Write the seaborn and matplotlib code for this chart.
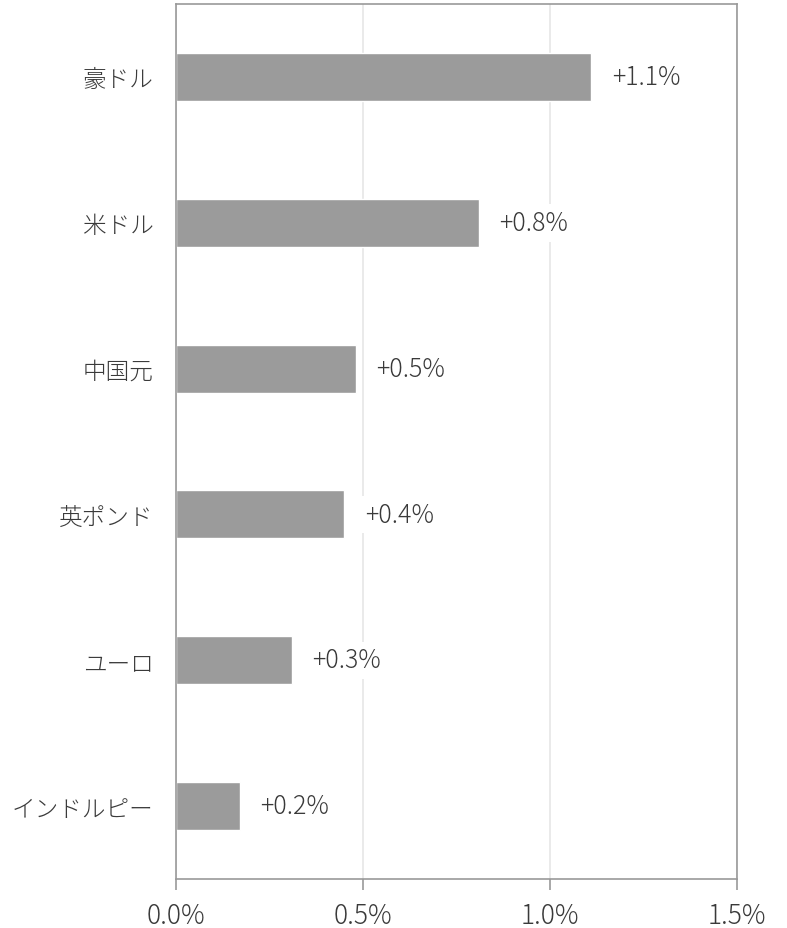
import pandas as pd
import numpy as np
import matplotlib
matplotlib.use("Agg")
import matplotlib.pyplot as plt
import seaborn as sns
from matplotlib.ticker import FuncFormatter

# ─────────────────────────────────────────
# DATA
# ─────────────────────────────────────────
currencies = ["豪ドル", "米ドル", "中国元", "英ポンド", "ユーロ", "インドルピー"]
changes = [1.11, 0.81, 0.48, 0.45, 0.31, 0.17]
value_labels = ["+1.1%", "+0.8%", "+0.5%", "+0.4%", "+0.3%", "+0.2%"]

df = pd.DataFrame({"currency": currencies, "change": changes})

# ─────────────────────────────────────────
# STYLE
# ─────────────────────────────────────────
sns.set_theme(style="white")
plt.rcParams["font.family"] = ["Noto Sans CJK JP", "DejaVu Sans"]
plt.rcParams["font.weight"] = "light"
text_color = "#3a3a3a"
frame_color = "#999999"

fig = plt.figure(figsize=(7.87, 9.29), dpi=100)
ax = fig.add_axes([176 / 787, 1 - 880 / 929, (737 - 176) / 787, (880 - 5) / 929])

sns.barplot(data=df, x="change", y="currency", orient="h",
            color="#9b9b9b", width=0.33, saturation=1, ax=ax, zorder=2)

ax.set_xlim(0, 1.5)
ax.set_xticks([0, 0.5, 1.0, 1.5])
ax.xaxis.set_major_formatter(FuncFormatter(lambda v, _: f"{v:.1f}%"))
ax.set_xlabel("")
ax.set_ylabel("")

# light vertical grid
ax.grid(axis="x", color="#e6e6e6", linewidth=1.2, zorder=0)
ax.set_axisbelow(True)

for side in ["left", "right", "top", "bottom"]:
    ax.spines[side].set_visible(True)
    ax.spines[side].set_color(frame_color)
    ax.spines[side].set_linewidth(1.2)

ax.tick_params(axis="x", bottom=True, length=8, width=1.2, color=frame_color,
               labelsize=19, labelcolor=text_color, pad=8)
ax.tick_params(axis="y", left=False, labelsize=17, labelcolor=text_color, pad=10)

# value labels with white background
for i, (v, lab) in enumerate(zip(changes, value_labels)):
    ax.text(v + 0.055, i, lab, va="center", ha="left", fontsize=18,
            color=text_color, zorder=3,
            bbox=dict(facecolor="white", edgecolor="none", pad=4))

plt.savefig("out.png", dpi=100)
